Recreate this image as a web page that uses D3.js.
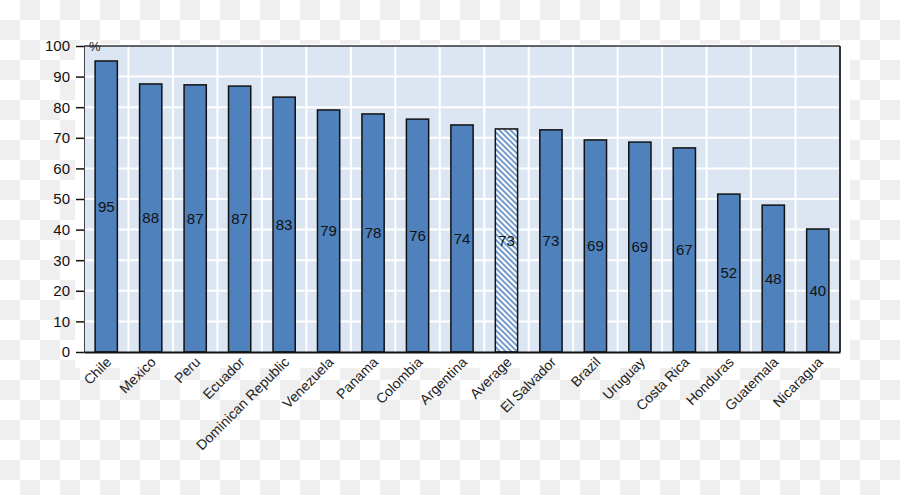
<!DOCTYPE html>
<html>
<head>
<meta charset="utf-8">
<script src="https://cdn.jsdelivr.net/npm/d3@7"></script>
<style>
  html, body { margin: 0; padding: 0; background: #fff; }
  svg { display: block; }
  text { font-family: "Liberation Sans", Arial, sans-serif; }
</style>
</head>
<body>
<div id="chart"></div>
<script>
//---------------------------- DATA ----------------------------//
var countries = ["Chile", "Mexico", "Peru", "Ecuador", "Dominican Republic", "Venezuela",
    "Panama", "Colombia", "Argentina", "Average", "El Salvador", "Brazil", "Uruguay",
    "Costa Rica", "Honduras", "Guatemala", "Nicaragua"];
var values = [95.1, 87.6, 87.3, 86.9, 83.3, 79.1, 77.8, 76.1, 74.2, 72.9, 72.6, 69.3,
    68.6, 66.7, 51.6, 48.0, 40.2];
var valueLabels = ["95", "88", "87", "87", "83", "79", "78", "76", "74", "73", "73", "69",
    "69", "67", "52", "48", "40"];
var yTicks = [0, 10, 20, 30, 40, 50, 60, 70, 80, 90, 100];

//-------------------------- LAYOUT ----------------------------//
var W = 900, H = 495;
var plot = { left: 84, right: 840, top: 46, bottom: 352 };

var svg = d3.select("#chart").append("svg")
    .attr("width", W)
    .attr("height", H);

var defs = svg.append("defs");

// checkerboard behind everything (transparent png look)
var checker = defs.append("pattern")
    .attr("id", "checker")
    .attr("width", 40).attr("height", 40)
    .attr("patternUnits", "userSpaceOnUse");
checker.append("rect").attr("width", 40).attr("height", 40).attr("fill", "#ffffff");
checker.append("rect").attr("x", 20).attr("y", 0).attr("width", 20).attr("height", 20).attr("fill", "#efefef");
checker.append("rect").attr("x", 0).attr("y", 20).attr("width", 20).attr("height", 20).attr("fill", "#efefef");

// hatch for the average bar
var hatch = defs.append("pattern")
    .attr("id", "hatch")
    .attr("width", 4).attr("height", 4)
    .attr("patternUnits", "userSpaceOnUse")
    .attr("patternTransform", "rotate(-45)");
hatch.append("rect").attr("width", 4).attr("height", 4).attr("fill", "#ffffff");
hatch.append("line")
    .attr("x1", 1).attr("y1", 0).attr("x2", 1).attr("y2", 4)
    .attr("stroke", "#4f81bd").attr("stroke-width", 1.6);

svg.append("rect").attr("width", W).attr("height", H).attr("fill", "url(#checker)");
svg.append("rect")
    .attr("x", 75).attr("y", 44)
    .attr("width", 775).attr("height", 324)
    .attr("fill", "#ffffff");

//-------------------------- SCALES ----------------------------//
var x = d3.scaleBand()
    .domain(countries)
    .range([plot.left, plot.right])
    .paddingInner(0.5)
    .paddingOuter(0.25);

var y = d3.scaleLinear()
    .domain([0, 100])
    .range([plot.bottom, plot.top]);

//------------------------ BACKGROUND --------------------------//
svg.append("rect")
    .attr("x", plot.left).attr("y", plot.top)
    .attr("width", plot.right - plot.left)
    .attr("height", plot.bottom - plot.top)
    .attr("fill", "#dce6f2");

// horizontal grid
svg.append("g")
    .selectAll("line")
    .data(yTicks.slice(1, -1))
    .enter().append("line")
    .attr("x1", plot.left).attr("x2", plot.right)
    .attr("y1", function(d) { return y(d); })
    .attr("y2", function(d) { return y(d); })
    .attr("stroke", "#ffffff").attr("stroke-width", 2);

// vertical grid at category boundaries
var step = x.step();
svg.append("g")
    .selectAll("line")
    .data(countries.slice(1))
    .enter().append("line")
    .attr("x1", function(d) { return x(d) + x.bandwidth() / 2 - step / 2; })
    .attr("x2", function(d) { return x(d) + x.bandwidth() / 2 - step / 2; })
    .attr("y1", plot.top).attr("y2", plot.bottom)
    .attr("stroke", "#ffffff").attr("stroke-width", 2);

//--------------------------- BARS -----------------------------//
var rows = countries.map(function(c, i) {
    return { name: c, value: values[i], label: valueLabels[i] };
});

svg.append("g")
    .selectAll("rect")
    .data(rows)
    .enter().append("rect")
    .attr("x", function(d) { return x(d.name); })
    .attr("y", function(d) { return y(d.value); })
    .attr("width", x.bandwidth())
    .attr("height", function(d) { return y(0) - y(d.value); })
    .attr("fill", function(d) { return d.name === "Average" ? "url(#hatch)" : "#4f81bd"; })
    .attr("stroke", "#111")
    .attr("stroke-width", 1.5);

svg.append("g")
    .selectAll("text")
    .data(rows)
    .enter().append("text")
    .attr("x", function(d) { return x(d.name) + x.bandwidth() / 2; })
    .attr("y", function(d) { return (y(d.value) + y(0)) / 2; })
    .attr("dy", "0.35em")
    .attr("text-anchor", "middle")
    .style("font-size", "15px")
    .style("fill", "#111")
    .text(function(d) { return d.label; });

//--------------------------- FRAME ----------------------------//
svg.append("line")
    .attr("x1", plot.left).attr("x2", plot.right)
    .attr("y1", plot.top).attr("y2", plot.top)
    .attr("stroke", "#333").attr("stroke-width", 1.5);
svg.append("line")
    .attr("x1", plot.right).attr("x2", plot.right)
    .attr("y1", plot.top).attr("y2", plot.bottom)
    .attr("stroke", "#333").attr("stroke-width", 2);

//---------------------------- AXES ----------------------------//
var yAxis = d3.axisLeft(y)
    .tickValues(yTicks)
    .tickSize(8)
    .tickPadding(6);

var gy = svg.append("g")
    .attr("transform", "translate(" + plot.left + ",0)")
    .call(yAxis);
gy.select(".domain").attr("stroke", "#444").attr("stroke-width", 1);
gy.selectAll(".tick line").attr("stroke", "#111").attr("stroke-width", 1.5);
gy.selectAll(".tick text")
    .style("font-size", "15px")
    .style("font-family", "'Liberation Sans Narrow', 'Liberation Sans', Arial, sans-serif")
    .style("fill", "#111");

var xAxis = d3.axisBottom(x).tickSize(0).tickPadding(0);
var gx = svg.append("g")
    .attr("transform", "translate(0," + plot.bottom + ")")
    .call(xAxis);
gx.select(".domain").attr("stroke", "#111").attr("stroke-width", 2);
gx.selectAll(".tick text")
    .attr("y", 0)
    .attr("dy", 0)
    .attr("transform", "translate(6,11) rotate(-45)")
    .attr("text-anchor", "end")
    .style("font-size", "14px")
    .style("font-family", "'Liberation Sans', Arial, sans-serif")
    .style("fill", "#222");

// unit label
svg.append("text")
    .attr("x", plot.left + 5)
    .attr("y", plot.top + 5)
    .style("font-size", "13px")
    .style("fill", "#222")
    .text("%");
</script>
</body>
</html>
